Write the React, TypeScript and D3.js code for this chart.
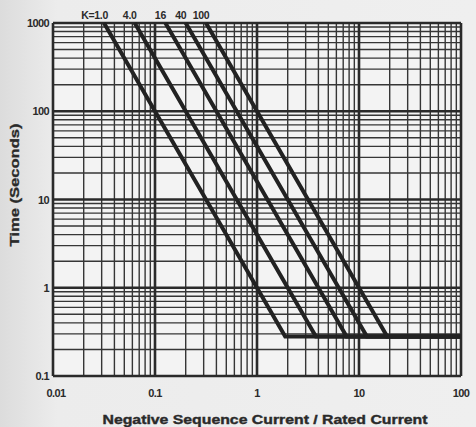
import React from "react";
import * as d3 from "d3";

const kValues = [1.0, 4.0, 16, 40, 100];
const kLabels = ["K=1.0", "4.0", "16", "40", "100"];
const minTime = 0.28;
const xTicks = [0.01, 0.1, 1, 10, 100];
const xTickLabels = ["0.01", "0.1", "1", "10", "100"];
const yTicks = [0.1, 1, 10, 100, 1000];
const yTickLabels = ["0.1", "1", "10", "100", "1000"];
const xTitle = "Negative Sequence Current / Rated Current";
const yTitle = "Time (Seconds)";

const W = 476;
const H = 427;
const L = 53, R = 461, T = 23, B = 376;

export default function App() {
  const x = d3.scaleLog().domain([0.01, 100]).range([L, R]);
  const y = d3.scaleLog().domain([0.1, 1000]).range([B, T]);

  const minorX: number[] = [];
  for (let d = 0.01; d < 99; d *= 10) for (let m = 2; m <= 9; m++) minorX.push(d * m);
  const minorY: number[] = [];
  for (let d = 0.1; d < 999; d *= 10) for (let m = 2; m <= 9; m++) minorY.push(d * m);

  const line = d3.line<[number, number]>().x((d) => x(d[0])).y((d) => y(d[1]));

  const curves = kValues.map((k) => {
    const i0 = Math.sqrt(k / 1000);
    const i1 = Math.sqrt(k / minTime);
    return { k, i0, pts: [[i0, 1000], [i1, minTime], [100, minTime]] as [number, number][] };
  });

  const font = "'Liberation Sans', Arial, sans-serif";
  const ink = "#2a2a2a";

  return (
    <svg width={W} height={H} style={{ position: "absolute", left: 0, top: 0, background: "#ececec" }}>
      <defs>
        <linearGradient id="bg" x1="0" x2="1" y1="0" y2="0">
          <stop offset="0" stopColor="#dcdcdc" />
          <stop offset="0.12" stopColor="#ececec" />
          <stop offset="1" stopColor="#efefef" />
        </linearGradient>
      </defs>
      <rect x={0} y={0} width={W} height={H} fill="url(#bg)" />
      <rect x={L} y={T} width={R - L} height={B - T} fill="#f3f3f3" />
      {minorX.map((v, i) => (
        <line key={"mx" + i} x1={x(v)} x2={x(v)} y1={T} y2={B} stroke="#363636" strokeWidth={1.4} />
      ))}
      {minorY.map((v, i) => (
        <line key={"my" + i} x1={L} x2={R} y1={y(v)} y2={y(v)} stroke="#363636" strokeWidth={1.4} />
      ))}
      {xTicks.map((v, i) => (
        <line key={"Mx" + i} x1={x(v)} x2={x(v)} y1={T} y2={B} stroke="#2a2a2a" strokeWidth={2.6} />
      ))}
      {yTicks.map((v, i) => (
        <line key={"My" + i} x1={L} x2={R} y1={y(v)} y2={y(v)} stroke="#2a2a2a" strokeWidth={2.6} />
      ))}
      {curves.map((c, i) => (
        <path key={"c" + i} d={line(c.pts) || ""} fill="none" stroke="#222" strokeWidth={4} strokeLinejoin="miter" />
      ))}
      {curves.map((c, i) => (
        <text
          key={"kl" + i}
          x={i === 0 ? x(c.i0) + 4 : x(c.i0) - 5}
          y={19}
          textAnchor={i === 0 ? "end" : "middle"}
          fontFamily={font}
          fontWeight="bold"
          fontSize={10.5}
          fill={ink}
          letterSpacing={-0.3}
        >
          {kLabels[i]}
        </text>
      ))}
      {yTicks.map((v, i) => (
        <text key={"yt" + i} x={L - 4} y={y(v) + 4} textAnchor="end" fontFamily={font} fontWeight="bold" fontSize={11} fill={ink} letterSpacing={-0.6}>
          {yTickLabels[i]}
        </text>
      ))}
      {xTicks.map((v, i) => (
        <text key={"xt" + i} x={x(v) + (i === 0 ? 3 : 0)} y={397} textAnchor="middle" fontFamily={font} fontWeight="bold" fontSize={11} fill={ink} letterSpacing={-0.6}>
          {xTickLabels[i]}
        </text>
      ))}
      <text x={265} y={424} textAnchor="middle" fontFamily={font} fontWeight="bold" fontSize={13} fill={ink} stroke={ink} strokeWidth={0.4} textLength={325} lengthAdjust="spacingAndGlyphs">
        {xTitle}
      </text>
      <text
        transform={`translate(19,185) rotate(-90)`}
        textAnchor="middle"
        fontFamily={font}
        fontWeight="bold"
        fontSize={12}
        fill={ink}
        stroke={ink}
        strokeWidth={0.3}
        textLength={123}
        lengthAdjust="spacingAndGlyphs"
      >
        {yTitle}
      </text>
    </svg>
  );
}
